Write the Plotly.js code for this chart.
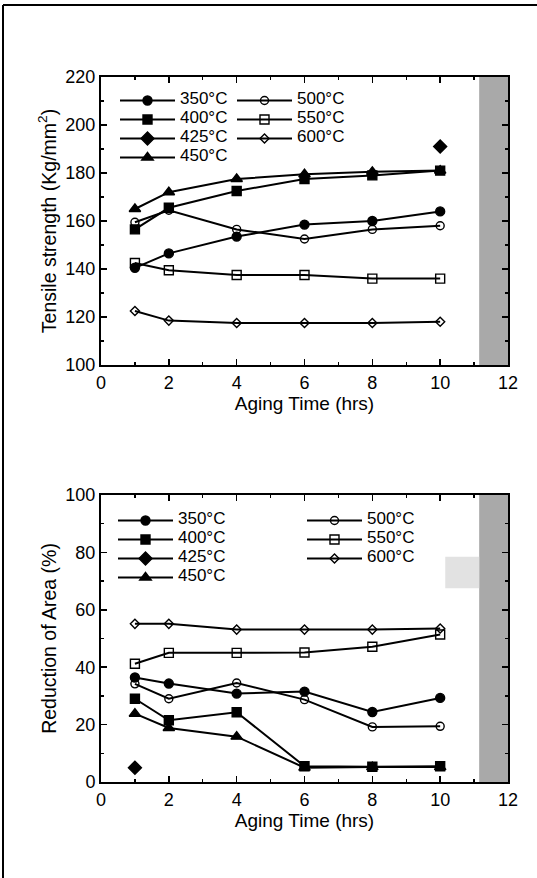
<!DOCTYPE html>
<html>
<head>
<meta charset="utf-8">
<script src="https://cdn.plot.ly/plotly-3.0.1.min.js"></script>
<style>html,body{margin:0;padding:0;background:#fff;}#chart{width:537px;height:878px;}</style>
</head>
<body>
<div id="chart"></div>
<script>
// ---- data ----
const hours = [1, 2, 4, 6, 8, 10];
const seriesNames = ['350°C', '400°C', '425°C', '450°C', '500°C', '550°C', '600°C'];

// Tensile strength (Kg/mm^2)
const ts350 = [140.5, 146.5, 153.5, 158.5, 160, 164];
const ts400 = [156.5, 165.5, 172.5, 177.5, 179, 181];
const ts425Hours = [10];
const ts425 = [191];
const ts450 = [165, 172, 177.5, 179.5, 180.5, 181];
const ts500 = [159.5, 164.5, 156.5, 152.5, 156.5, 158];
const ts550 = [142.5, 139.5, 137.5, 137.5, 136, 136];
const ts600 = [122.5, 118.5, 117.5, 117.5, 117.5, 118];

// Reduction of area (%)
const ra350 = [36.4, 34.3, 30.8, 31.5, 24.4, 29.3];
const ra400 = [29, 21.5, 24.3, 5.5, 5.3, 5.5];
const ra425Hours = [1];
const ra425 = [5];
const ra450 = [23.8, 18.8, 15.8, 5, 5.2, 5.2];
const ra500 = [34.2, 29, 34.5, 28.7, 19.2, 19.4];
const ra550 = [41.2, 45, 45, 45.1, 47.1, 51.4];
const ra600 = [55.1, 55.1, 53.1, 53.1, 53.1, 53.5];

// ---- styles ----
const styles = [
  {symbol: 'circle', size: 9},
  {symbol: 'square', size: 9},
  {symbol: 'diamond', size: 10},
  {symbol: 'triangle-up', size: 10},
  {symbol: 'circle-open', size: 8},
  {symbol: 'square-open', size: 9},
  {symbol: 'diamond-open', size: 7}
];

function mk(i, x, y, xa, ya, legend) {
  const s = styles[i];
  return {
    x: x, y: y, xaxis: xa, yaxis: ya, legend: legend,
    type: 'scatter', mode: 'lines+markers',
    name: '<span style="font-size:17px">' + seriesNames[i] + '</span>',
    line: {color: '#000', width: 2},
    marker: {symbol: s.symbol, size: s.size, color: '#000', line: {color: '#000', width: 1.4}},
    hoverinfo: 'x+y'
  };
}

const topSeries = [ts350, ts400, ts425, ts450, ts500, ts550, ts600];
const botSeries = [ra350, ra400, ra425, ra450, ra500, ra550, ra600];
const traces = [];
for (let i = 0; i < 7; i++) {
  const xs = (i === 2) ? ts425Hours : hours;
  traces.push(mk(i, xs, topSeries[i], 'x', 'y', i < 4 ? 'legend' : 'legend2'));
}
for (let i = 0; i < 7; i++) {
  const xs = (i === 2) ? ra425Hours : hours;
  traces.push(mk(i, xs, botSeries[i], 'x2', 'y2', i < 4 ? 'legend3' : 'legend4'));
}

const W = 537, H = 878;
const px = v => v / W;
const py = v => 1 - v / H;
const font = {family: 'Liberation Sans, Arial, sans-serif', color: '#000'};

function xAxis(anchor, domain) {
  return {
    anchor: anchor, domain: domain, range: [0, 12], dtick: 2, tick0: 0,
    ticks: 'inside', ticklen: 6, tickwidth: 1.5, tickcolor: '#000',
    minor: {dtick: 1, ticks: 'inside', ticklen: 3, tickwidth: 1.2, tickcolor: '#000'},
    showline: true, linecolor: '#000', linewidth: 2, mirror: 'ticks',
    showgrid: false, zeroline: false,
    tickfont: Object.assign({size: 18}, font),
    title: {text: 'Aging Time (hrs)', font: Object.assign({size: 19}, font), standoff: 0}
  };
}
function yAxis(anchor, domain, range, title) {
  return {
    anchor: anchor, domain: domain, range: range, dtick: 20,
    ticks: 'inside', ticklen: 6, tickwidth: 1.5, tickcolor: '#000',
    minor: {dtick: 10, ticks: 'inside', ticklen: 3, tickwidth: 1.2, tickcolor: '#000'},
    showline: true, linecolor: '#000', linewidth: 2, mirror: 'ticks',
    showgrid: false, zeroline: false,
    tickfont: Object.assign({size: 18}, font),
    title: {text: title, font: Object.assign({size: 19.5}, font), standoff: 4}
  };
}

const legBase = {
  bgcolor: 'rgba(0,0,0,0)', borderwidth: 0, xanchor: 'left', yanchor: 'top',
  itemwidth: 55, font: Object.assign({size: 10}, font), tracegroupgap: 0,
  itemclick: false, itemdoubleclick: false
};

const layout = {
  width: W, height: H,
  margin: {l: 0, r: 0, t: 0, b: 0},
  paper_bgcolor: '#fff', plot_bgcolor: 'rgba(0,0,0,0)',
  font: font,
  showlegend: true,
  xaxis: xAxis('y', [px(101), px(508)]),
  yaxis: yAxis('x', [py(365), py(77)], [100, 220], 'Tensile strength (Kg/mm<sup>2</sup>)'),
  xaxis2: xAxis('y2', [px(101), px(508)]),
  yaxis2: yAxis('x2', [py(782), py(495)], [0, 100], 'Reduction of Area (%)'),
  legend: Object.assign({}, legBase, {x: px(115), y: py(86)}),
  legend2: Object.assign({}, legBase, {x: px(232), y: py(86)}),
  legend3: Object.assign({}, legBase, {x: px(113), y: py(506)}),
  legend4: Object.assign({}, legBase, {x: px(302), y: py(506)}),
  shapes: [
    {type: 'rect', xref: 'x', yref: 'y', x0: 11.15, x1: 12, y0: 100, y1: 220, layer: 'below', fillcolor: '#a9a9a9', line: {width: 0}},
    {type: 'rect', xref: 'x2', yref: 'y2', x0: 11.15, x1: 12, y0: 0, y1: 100, layer: 'below', fillcolor: '#a9a9a9', line: {width: 0}},
    {type: 'rect', xref: 'x2', yref: 'y2', x0: 10.15, x1: 11.15, y0: 67.5, y1: 78.5, layer: 'below', fillcolor: '#e2e2e2', line: {width: 0}},
    {type: 'line', xref: 'paper', yref: 'paper', x0: px(3), x1: px(3), y0: 0, y1: py(5), line: {color: '#000', width: 2}},
    {type: 'line', xref: 'paper', yref: 'paper', x0: px(3), x1: 1, y0: py(5), y1: py(5), line: {color: '#000', width: 2}}
  ]
};

Plotly.newPlot('chart', traces, layout, {displayModeBar: false, staticPlot: true});
</script>
</body>
</html>
